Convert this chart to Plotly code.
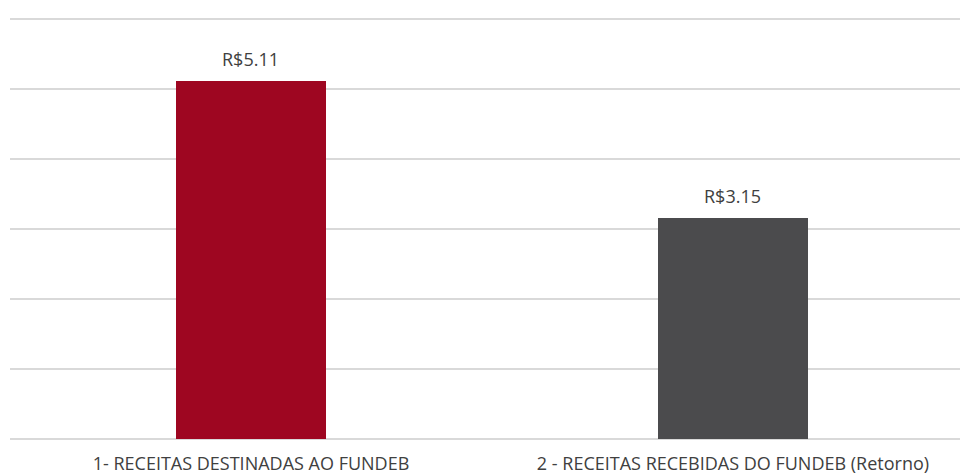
import plotly.graph_objects as go

categories = ["1- RECEITAS DESTINADAS AO FUNDEB", "2 - RECEITAS RECEBIDAS DO FUNDEB (Retorno)"]
values = [5.11, 3.15]
value_labels = ["R$5.11", "R$3.15"]
bar_colors = ["#9E0621", "#4B4B4D"]

FONT = "Open Sans"
TXT = "#404040"

fig = go.Figure()
fig.add_trace(go.Bar(
    x=categories, y=values,
    marker=dict(color=bar_colors, line=dict(width=0)),
    width=0.313,
    hoverinfo="skip",
))

for c, v, t in zip(categories, values, value_labels):
    fig.add_annotation(x=c, y=v, text=t, showarrow=False, yanchor="bottom",
                       yshift=8, font=dict(family=FONT, size=18, color=TXT))

fig.update_layout(
    width=960, height=475,
    margin=dict(l=10, r=0, t=15, b=36, autoexpand=False),
    paper_bgcolor="white", plot_bgcolor="white",
    showlegend=False,
    font=dict(family=FONT, size=18, color=TXT),
    bargap=0,
)
fig.update_xaxes(range=[-0.5, 1.471], showgrid=False, showline=False, zeroline=False,
                 ticks="", ticklabelstandoff=12,
                 tickfont=dict(family=FONT, size=18, color=TXT))
fig.update_yaxes(range=[0, 6.05], dtick=1, showgrid=True, gridcolor="#D9D9D9", gridwidth=2,
                 zeroline=True, zerolinecolor="#D9D9D9", zerolinewidth=2,
                 showticklabels=False, ticks="", showline=False)

fig.write_html("out.html", config={"displayModeBar": False},
               post_script="document.body.style.margin='0';document.body.style.overflow='hidden';")
